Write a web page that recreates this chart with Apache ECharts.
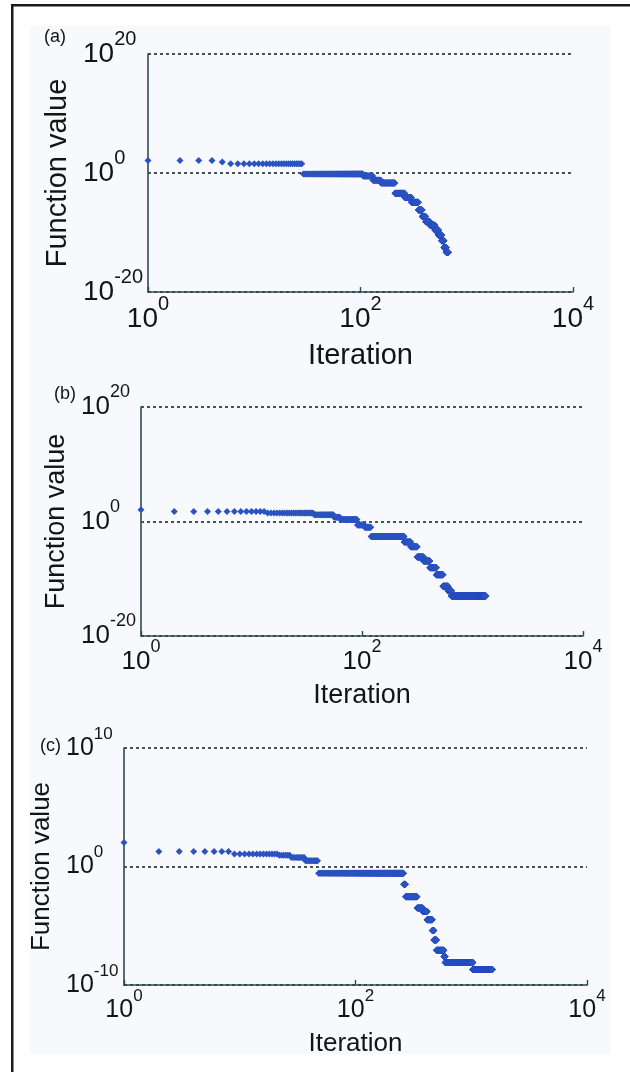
<!DOCTYPE html>
<html>
<head>
<meta charset="utf-8">
<script src="https://cdn.jsdelivr.net/npm/echarts@6/dist/echarts.min.js"></script>
<style>
  html, body { margin: 0; padding: 0; background: #ffffff; }
  #chart { width: 630px; height: 1072px; }
</style>
</head>
<body>
<div id="chart"></div>
<script>
// ---- Data (run-length: iteration ranges with log10 of function value) ----
const panelTitles = ['(a)', '(b)', '(c)'];
const xTickExps = [0, 2, 4];
const yTickExpsAB = [-20, 0, 20];
const yTickExpsC = [-10, 0, 10];

// Panel (a)
const aStart = [1, 5, 6, 29, 106, 131, 156, 211, 261, 301, 351, 381, 411, 451, 501, 541, 581, 611, 641];
const aEnd   = [4, 5, 28, 105, 130, 155, 210, 260, 300, 350, 380, 410, 450, 500, 540, 580, 610, 640, 670];
const aExp   = [2.1, 1.85, 1.55, -0.15, -0.5, -1.2, -1.7, -3.4, -4.1, -4.9, -6.2, -7.3, -8.2, -8.8, -9.6, -10.4, -11.4, -12.5, -13.3];

// Panel (b)
const bStart = [1, 2, 14, 37, 56, 64, 91, 106, 121, 241, 276, 316, 361, 411, 471, 541, 601, 646];
const bEnd   = [1, 13, 36, 55, 63, 90, 105, 120, 240, 275, 315, 360, 410, 470, 540, 600, 645, 1320];
const bExp   = [2.05, 1.75, 1.5, 1.2, 0.75, 0.35, -0.6, -1.0, -2.6, -3.6, -4.4, -6.2, -6.9, -8.1, -9.3, -11.3, -12.1, -13.0];

// Panel (c)
const cStart = [1, 2, 9, 22, 28, 37, 48, 261, 271, 341, 381, 416, 461, 476, 501, 581, 596, 1031];
const cEnd   = [1, 8, 21, 27, 36, 47, 260, 270, 340, 380, 415, 460, 475, 500, 580, 595, 1030, 1520];
const cExp   = [2.03, 1.27, 1.05, 0.95, 0.76, 0.48, -0.56, -1.5, -2.55, -3.5, -3.8, -4.5, -5.4, -6.2, -7.07, -7.6, -8.1, -8.7];

function expand(starts, ends, exps) {
  const pts = [];
  for (let i = 0; i < starts.length; i++) {
    for (let it = starts[i]; it <= ends[i]; it++) {
      pts.push([it, Math.pow(10, exps[i])]);
    }
  }
  return pts;
}

const series = [expand(aStart, aEnd, aExp), expand(bStart, bEnd, bExp), expand(cStart, cEnd, cExp)];

// ---- Layout / style ----
const FONT = '"Liberation Sans", Arial, Helvetica, sans-serif';
const AXIS_COLOR = '#2f4a52';
const TEXT_COLOR = '#141414';
const DOT_COLOR = '#2b53c0';

const panels = [
  { grid: { left: 148, top: 54, width: 425, height: 238 }, yExps: yTickExpsAB, f: 28, s: 20, nameF: 29,
    xNameGap: 49, yNameGap: 76, yLabelMargin: 65, xLabelMargin: 2, title: { left: 44, top: 28 } },
  { grid: { left: 141, top: 407, width: 442, height: 229 }, yExps: yTickExpsAB, f: 26, s: 18, nameF: 27,
    xNameGap: 46, yNameGap: 70, yLabelMargin: 60, xLabelMargin: 2, title: { left: 54, top: 385 } },
  { grid: { left: 124, top: 748, width: 463, height: 237 }, yExps: yTickExpsC, f: 25, s: 17, nameF: 26,
    xNameGap: 46, yNameGap: 64, yLabelMargin: 58, xLabelMargin: 3, title: { left: 40, top: 737 } }
];

function expLabel(v) {
  const n = Math.round(Math.log10(v));
  return '{b|10}{s|' + n + '}';
}
function rich(f, s) {
  return {
    b: { fontSize: f, lineHeight: Math.round(f * 1.8), fontFamily: FONT, color: TEXT_COLOR },
    s: { fontSize: s, lineHeight: s, verticalAlign: 'top', fontFamily: FONT, color: TEXT_COLOR }
  };
}

const option = {
  animation: false,
  backgroundColor: '#ffffff',
  title: panels.map((p, i) => ({
    text: panelTitles[i], left: p.title.left, top: p.title.top, padding: 0,
    textStyle: { fontFamily: FONT, fontSize: 18, fontWeight: 'normal', color: TEXT_COLOR }
  })),
  graphic: [
    { type: 'rect', shape: { x: 30, y: 26, width: 581, height: 1028 }, style: { fill: '#f8f9fc' }, z: -10, silent: true },
    { type: 'rect', shape: { x: 11, y: 4, width: 619, height: 2.5 }, style: { fill: '#1a1a1a' }, z: 10, silent: true },
    { type: 'rect', shape: { x: 11, y: 4, width: 2.5, height: 1068 }, style: { fill: '#1a1a1a' }, z: 10, silent: true }
  ],
  grid: panels.map(p => Object.assign({ containLabel: false }, p.grid)),
  xAxis: panels.map((p, i) => ({
    type: 'log', logBase: 10, gridIndex: i, min: 1, max: 10000, interval: 2,
    name: 'Iteration', nameLocation: 'middle', nameGap: p.xNameGap,
    nameTextStyle: { fontFamily: FONT, fontSize: p.nameF, color: TEXT_COLOR },
    axisLine: { show: true, lineStyle: { color: AXIS_COLOR, width: 1.6 } },
    axisTick: { show: true, inside: true, length: 5, lineStyle: { color: AXIS_COLOR, width: 1.4 } },
    minorTick: { show: false },
    splitLine: { show: false },
    axisLabel: { margin: p.xLabelMargin, formatter: expLabel, rich: rich(p.f, p.s), align: 'center' }
  })),
  yAxis: panels.map((p, i) => ({
    type: 'log', logBase: 10, gridIndex: i,
    min: Math.pow(10, p.yExps[0]), max: Math.pow(10, p.yExps[2]), interval: p.yExps[2],
    name: 'Function value', nameLocation: 'middle', nameGap: p.yNameGap, nameRotate: 90,
    nameTextStyle: { fontFamily: FONT, fontSize: p.nameF, color: TEXT_COLOR },
    axisLine: { show: true, lineStyle: { color: AXIS_COLOR, width: 1.6 } },
    axisTick: { show: false },
    minorTick: { show: false },
    splitLine: { show: true, lineStyle: { color: '#1e2b2e', width: 1.6, type: [3, 3] } },
    axisLabel: { margin: p.yLabelMargin, align: 'left', formatter: expLabel, rich: rich(p.f, p.s) }
  })),
  series: series.map((d, i) => ({
    type: 'scatter', xAxisIndex: i, yAxisIndex: i, data: d,
    symbol: 'diamond', symbolSize: 7, large: false, progressive: 0,
    itemStyle: { color: DOT_COLOR, opacity: 1 },
    emphasis: { disabled: true }, z: 3
  }))
};

const chart = echarts.init(document.getElementById('chart'), null, { renderer: 'canvas' });
chart.setOption(option);
</script>
</body>
</html>
